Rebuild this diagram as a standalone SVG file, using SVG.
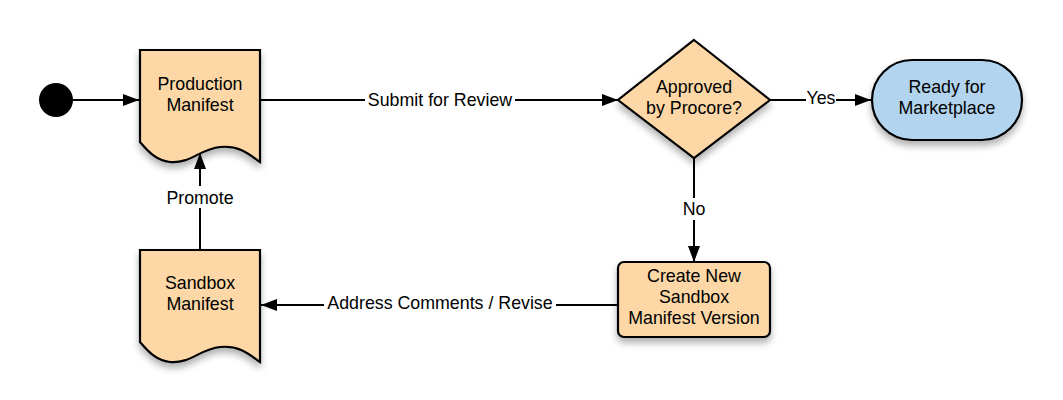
<svg xmlns="http://www.w3.org/2000/svg" width="1063" height="400" viewBox="0 0 1063 400">
<defs>
<filter id="sh" x="-20%" y="-20%" width="140%" height="150%">
<feDropShadow dx="0" dy="5" stdDeviation="3.5" flood-color="#000" flood-opacity="0.3"/>
</filter>
<marker id="ah" viewBox="0 0 16 12" refX="16" refY="6" markerWidth="16" markerHeight="12" markerUnits="userSpaceOnUse" orient="auto">
<path d="M0,0 L16,6 L0,12 Z" fill="#000"/>
</marker>
</defs>
<style>
text{font-family:"Liberation Sans",Arial,sans-serif;font-size:17.8px;fill:#000;text-anchor:middle}
.shape{stroke:#000;stroke-width:2.2;filter:url(#sh)}
.orange{fill:#fdd8a6}
.blue{fill:#b2d4ee}
.conn{fill:none;stroke:#000;stroke-width:2}
.lbl{fill:#fff}
</style>
<g id="connectors">
<line class="conn" x1="73" y1="100" x2="139" y2="100" marker-end="url(#ah)"/>
<line class="conn" x1="260" y1="100" x2="618" y2="100" marker-end="url(#ah)"/>
<line class="conn" x1="770" y1="100" x2="871" y2="100" marker-end="url(#ah)"/>
<line class="conn" x1="694" y1="158" x2="694" y2="262" marker-end="url(#ah)"/>
<line class="conn" x1="618" y1="305" x2="261" y2="305" marker-end="url(#ah)"/>
<line class="conn" x1="200" y1="250" x2="200" y2="153" marker-end="url(#ah)"/>
<rect class="lbl" x="365" y="90" width="150" height="20"/>
<text x="440" y="106">Submit for Review</text>
<rect class="lbl" x="806" y="90" width="30" height="18"/>
<text x="821" y="104">Yes</text>
<rect class="lbl" x="680" y="198" width="28" height="22"/>
<text x="694" y="215">No</text>
<rect class="lbl" x="324" y="294" width="232" height="20"/>
<text x="440" y="309">Address Comments / Revise</text>
<rect class="lbl" x="164" y="186" width="72" height="22"/>
<text x="200" y="204">Promote</text>
</g>
<g id="start">
<circle cx="56" cy="100" r="17" fill="#000"/>
</g>
<g id="production-manifest">
<path class="shape orange" d="M140,50 H260 V162 C250,155 240,145 220,147 C200,149 190,164 170,162 C155,160 147,150 140,142 Z"/>
<text x="200" y="90">Production</text>
<text x="200" y="111">Manifest</text>
</g>
<g id="sandbox-manifest">
<path class="shape orange" d="M140,250 H260 V362 C250,355 240,345 220,347 C200,349 190,364 170,362 C155,360 147,350 140,342 Z"/>
<text x="200" y="289">Sandbox</text>
<text x="200" y="310">Manifest</text>
</g>
<g id="approved">
<path class="shape orange" d="M694,40 L770,100 L694,158 L618,100 Z"/>
<text x="694" y="93">Approved</text>
<text x="694" y="114">by Procore?</text>
</g>
<g id="ready">
<rect class="shape blue" x="872" y="60" width="150" height="80" rx="40" ry="40"/>
<text x="947" y="93">Ready for</text>
<text x="947" y="114">Marketplace</text>
</g>
<g id="create-new">
<rect class="shape orange" x="618" y="262" width="152" height="75" rx="6" ry="6"/>
<text x="694" y="282">Create New</text>
<text x="694" y="303">Sandbox</text>
<text x="694" y="324">Manifest Version</text>
</g>
</svg>
